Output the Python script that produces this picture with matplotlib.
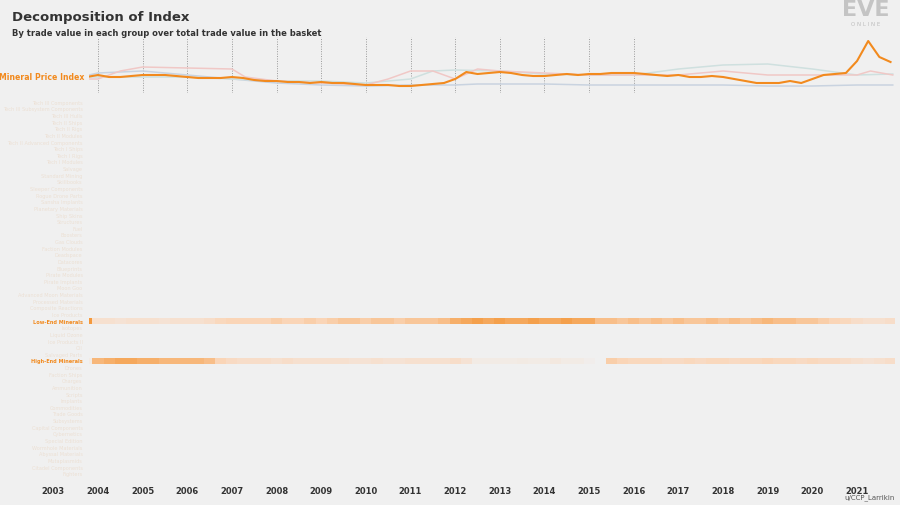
import numpy as np
import matplotlib
matplotlib.use("Agg")
import matplotlib.pyplot as plt
from matplotlib.colors import LinearSegmentedColormap

BG = "#f0f0f0"
ORANGE = "#f28a1e"
FONT = "DejaVu Sans"

# ---- data ----
idx_t = [2003.75 + 0.25 * i for i in range(73)]
idx_px = [78,76,78,78,77,76,76,76,77,78,79,79,79,78,79,81,82,82,83,83,84,83,84,84,85,86,86,86,87,87,
          86,85,84,80,73,75,74,73,74,76,77,77,76,75,76,75,75,74,74,74,75,76,77,76,78,78,77,78,80,82,
          84,84,84,82,84,80,76,75,74,62,42,58,63]
index_vals = [(95 - p) / 10 for p in idx_px]

pink_t = [2003.8,2004,2004.5,2005,2006,2007,2007.3,2008,2009,2010,2010.5,2011,2011.5,2012,2012.5,2013,2014,2015,2016,2017,2018,2019,2020,2021,2021.3,2021.8]
pink_px = [80,80,72,68,69,70,78,82,84,86,80,72,72,80,70,72,74,76,76,76,72,76,76,76,72,76]
pink_vals = [(95 - p) / 10 for p in pink_px]
blue_t = [2003.8,2004,2005,2006,2007,2008,2009,2010,2011,2012,2012.5,2013,2014,2015,2016,2017,2018,2019,2020,2021,2021.8]
blue_px = [76,74,72,76,80,84,86,87,86,86,85,85,85,86,86,86,86,87,87,86,86]
blue_vals = [(95 - p) / 10 for p in blue_px]
teal_t = [2003.8,2004,2005,2006,2007,2008,2009,2010,2011,2011.5,2012,2013,2014,2015,2016,2017,2018,2019,2020,2021,2021.8]
teal_px = [78,78,78,78,80,82,82,84,80,72,71,72,75,76,76,70,66,65,70,76,75]
teal_vals = [(95 - p) / 10 for p in teal_px]

categories = ["Tech III Components","Tech III Subsystem Components","Tech III Hulls","Tech II Ships","Tech II Rigs",
 "Tech II Modules","Tech II Advanced Components","Tech I Ships","Tech I Rigs","Tech I Modules","Salvage",
 "Standard Mining","Skillbooks","Sleeper Components","Rogue Drone Parts","Sansha Implants","Planetary Materials",
 "Ship Skins","Structures","Fuel","Boosters","Gas Clouds","Faction Modules","Deadspace","Datacores",
 "Blueprints","Pirate Modules","Pirate Implants","Moon Goo","Advanced Moon Materials","Processed Materials",
 "Composite Reactions","Ice Products","Low-End Minerals",
 "Isotopes","Liquid Ozone","Ice Products II","Oil","Salvaged Parts","High-End Minerals","Drones",
 "Faction Ships","Charges","Ammunition","Scripts","Implants","Commodities","Trade Goods","Subsystems",
 "Capital Components","Cybernetics","Special Edition","Wormhole Materials","Abyssal Materials","Mutaplasmids",
 "Citadel Components","Fighters"]

heat_t = [2003.75 + 0.25 * i for i in range(73)]
low_end = [0.9,0.3,0.3,0.25,0.3,0.3,0.3,0.25,0.3,0.3,0.3,0.35,0.45,0.5,0.5,0.5,0.5,0.55,0.5,0.5,0.55,0.5,0.55,
           0.6,0.6,0.55,0.6,0.6,0.55,0.6,0.6,0.6,0.65,0.75,0.8,0.85,0.8,0.85,0.8,0.8,0.85,0.8,0.8,0.85,0.8,
           0.8,0.65,0.65,0.6,0.65,0.6,0.65,0.6,0.65,0.6,0.6,0.65,0.6,0.65,0.6,0.65,0.7,0.65,0.65,0.6,0.6,
           0.55,0.5,0.45,0.35,0.3,0.3,0.35]
high_end = [0.1,0.7,0.75,0.8,0.8,0.75,0.75,0.7,0.7,0.7,0.7,0.65,0.5,0.4,0.35,0.35,0.35,0.3,0.35,0.3,0.3,0.3,0.3,
            0.3,0.25,0.25,0.3,0.25,0.25,0.3,0.3,0.3,0.3,0.35,0.25,0.1,0.1,0.1,0.1,0.12,0.1,0.1,0.15,0.1,0.1,
            0.05,0.0,0.55,0.5,0.45,0.45,0.45,0.4,0.4,0.45,0.4,0.45,0.45,0.4,0.45,0.45,0.5,0.45,0.45,0.4,0.45,
            0.4,0.4,0.35,0.3,0.25,0.3,0.35]
years = list(range(2003, 2022))

# ---- plot ----
fig = plt.figure(figsize=(9, 5.06), dpi=100, facecolor=BG)
W, H = 900, 506
x0, x1 = 89 / W, 895 / W
xlim = (2003.8, 2021.85)

ax1 = fig.add_axes([x0, 1 - 94 / H, x1 - x0, 56 / H], facecolor=BG)
ax2 = fig.add_axes([x0, 1 - 478 / H, x1 - x0, 378 / H], facecolor=BG)

for ax in (ax1, ax2):
    ax.set_xlim(*xlim)
    for s in ax.spines.values():
        s.set_visible(False)
    ax.set_xticks([]); ax.set_yticks([])
    for y in range(2004, 2017):
        ax.axvline(y, color="#999999", lw=0.7, ls=(0, (1, 1.5)), zorder=0)

ax1.plot(blue_t, blue_vals, color="#c9d3e0", lw=1.1)
ax1.plot(teal_t, teal_vals, color="#cfe0df", lw=1.1)
ax1.plot(pink_t, pink_vals, color="#f0c8c6", lw=1.1)
ax1.plot(idx_t, index_vals, color=ORANGE, lw=1.5)
ax1.set_ylim(0.1, 5.7)
ax1.text(-0.006, (95 - 78) / 10, "Mineral Price Index", transform=ax1.get_yaxis_transform(),
         ha="right", va="center", color=ORANGE, fontsize=5.6, fontweight="bold", family=FONT)

n = len(categories)
Z = np.zeros((n, len(heat_t)))
Z[categories.index("Low-End Minerals")] = low_end
Z[categories.index("High-End Minerals")] = high_end
cmap = LinearSegmentedColormap.from_list("o", [BG, "#fad5b8", ORANGE])
edges = np.concatenate([[heat_t[0]], np.array(heat_t[1:]) - 0.125, [xlim[1]]])
ax2.pcolormesh(edges, np.arange(n + 1), Z, cmap=cmap, vmin=0, vmax=1, zorder=1)
ax2.set_ylim(n, 0)
for i, c in enumerate(categories):
    hl = c in ("Low-End Minerals", "High-End Minerals")
    ax2.text(-0.008, i + 0.5, c, transform=ax2.get_yaxis_transform(), ha="right", va="center",
             fontsize=3.6, family=FONT, color=ORANGE if hl else "#ece0d4",
             fontweight="bold" if hl else "normal")
for y in years:
    ax2.text(y, n + 2.0, str(y), ha="center", va="center", fontsize=6, family=FONT,
             color="#333333", fontweight="bold", clip_on=False)

fig.text(12 / W, 1 - 18 / H, "Decomposition of Index", fontsize=9.5, fontweight="bold",
         color="#333333", family=FONT, va="center")
fig.text(12 / W, 1 - 33 / H, "By trade value in each group over total trade value in the basket",
         fontsize=6, fontweight="bold", color="#333333", family=FONT, va="center")
fig.text(866 / W, 1 - 10 / H, "EVE", fontsize=16, color="#c4c4c4", ha="center", va="center",
         family="DejaVu Sans", fontweight="bold")
fig.text(866 / W, 1 - 25 / H, "O N L I N E", fontsize=4, color="#bdbdbd", ha="center", va="center")
fig.text(895 / W, 1 - 498 / H, "u/CCP_Larrikin", fontsize=5, color="#555555", ha="right",
         va="center", family=FONT)

fig.savefig("out.png", dpi=100, facecolor=BG)
